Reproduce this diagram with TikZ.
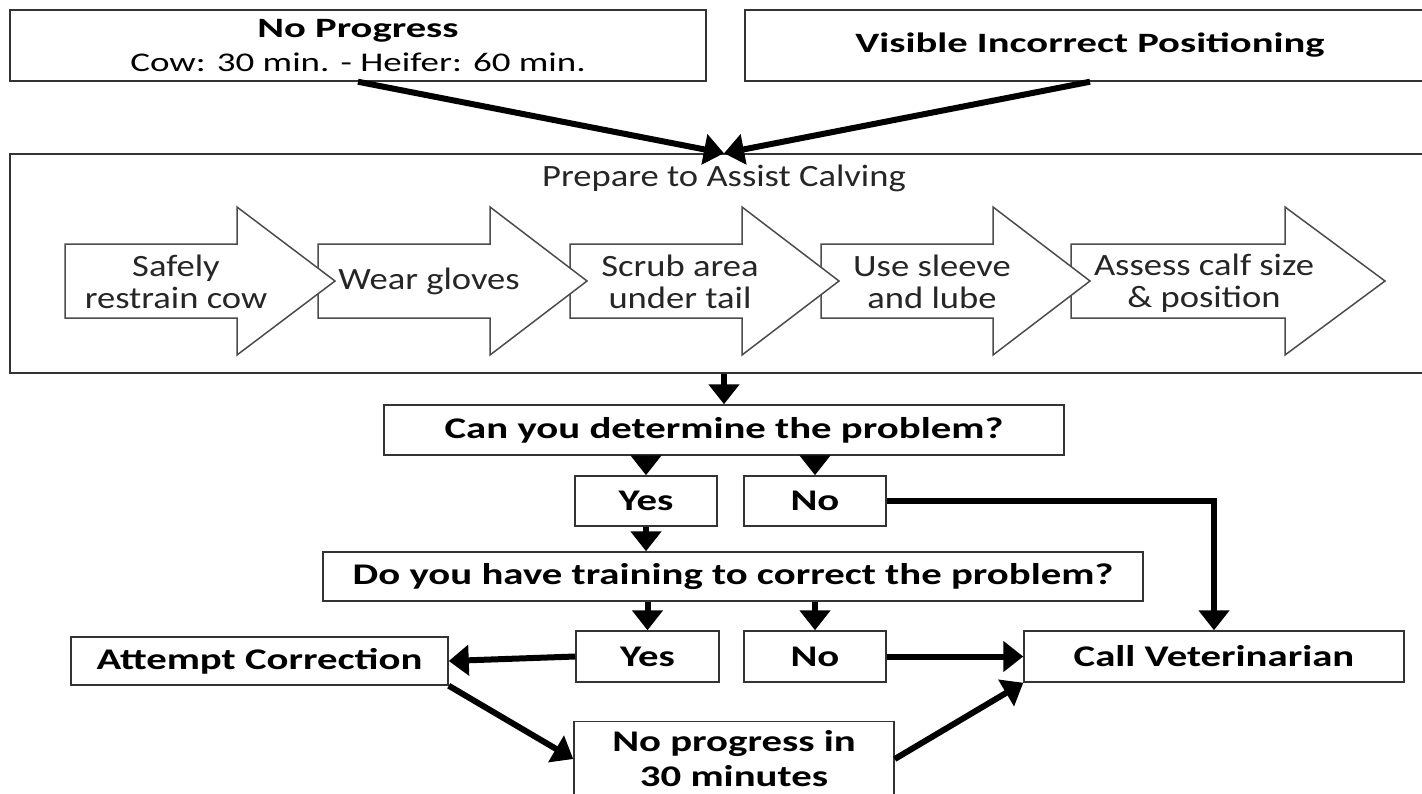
\documentclass[tikz,border=0pt]{standalone}
\usepackage{fontspec}
\setmainfont{Carlito}
\newfontfamily\headfont[FakeStretch=1.45]{Carlito}
\newfontfamily\subfont[FakeStretch=1.37]{Carlito}
\newfontfamily\stepfont[FakeStretch=1.18]{Carlito}
\newfontfamily\askfont[FakeStretch=1.36]{Carlito}
\usetikzlibrary{arrows.meta}

\tikzset{
  box/.style={draw=black!80, line width=1.5pt, fill=white, inner sep=0pt, align=center},
  asktext/.style={font=\askfont\bfseries\fontsize{30}{35}\selectfont},
  steptext/.style={align=center, text=black!85, inner sep=0pt, font=\stepfont\fontsize{31}{32}\selectfont},
  chev/.style={draw=black!70, line width=1.5pt, fill=white},
  flow/.style={line width=6pt, -{Triangle[length=20pt,width=30pt]}}
}

\begin{document}
\begin{tikzpicture}[x=1pt, y=-1pt]
    \useasboundingbox (0,0) rectangle (1422,793);
    \clip (0,0) rectangle (1422,793);

    % Top boxes
    \node[box, minimum width=696pt, minimum height=71pt] (np) at (358,45.5)
        {{\headfont\bfseries\fontsize{28}{33}\selectfont No Progress}\\[9pt]
         {\subfont\fontsize{27}{30}\selectfont Cow: 30 min. - Heifer: 60 min.}};
    \node[box, minimum width=690pt, minimum height=71pt, font=\headfont\bfseries\fontsize{28}{33}\selectfont] (vis) at (1090,45.5)
        {Visible Incorrect Positioning};

    % Preparation box with the steps
    \node[box, minimum width=1428pt, minimum height=219pt] (prep) at (724,263.5) {};
    \node[steptext] (preptitle) at (724,178) {Prepare to Assist Calving};

    % Step arrows, drawn from right to left
    \foreach \x/\b/\h in {1071/214/100, 821/172/97, 570/172/97, 318/172/97, 65/172/98}
        \draw[chev] (\x,244) -- ++(\b,0) -- ++(0,-37) -- ++(\h,74) -- ++(-\h,74)
            -- ++(0,-37) -- ++(-\b,0) -- cycle;

    \node[steptext] (c1) at (176,282) {Safely\\restrain cow};
    \node[steptext] (c2) at (429,281) {Wear gloves};
    \node[steptext] (c3) at (680,282) {Scrub area\\under tail};
    \node[steptext] (c4) at (932,282) {Use sleeve\\and lube};
    \node[steptext] (c5) at (1204,283) {Assess calf size\\\& position};

    % Questions and answers
    \node[box, asktext, minimum width=680pt, minimum height=50pt] (can) at (724,430) {Can you determine the problem?};
    \node[box, asktext, minimum width=142pt, minimum height=50pt] (yes1) at (646,501) {Yes};
    \node[box, asktext, minimum width=142pt, minimum height=50pt] (no1) at (815,501) {No};
    \node[box, asktext, minimum width=820pt, minimum height=49pt] (train) at (733,576.5) {Do you have training to correct the problem?};
    \node[box, asktext, minimum width=143pt, minimum height=51pt] (yes2) at (647.5,656.5) {Yes};
    \node[box, asktext, minimum width=142pt, minimum height=51pt] (no2) at (815,656.5) {No};
    \node[box, asktext, minimum width=380pt, minimum height=51pt] (vet) at (1214,656.5) {Call Veterinarian};
    \node[box, asktext, minimum width=377pt, minimum height=48pt] (attempt) at (259.5,661) {Attempt Correction};
    \node[box, asktext, minimum width=320pt, minimum height=75pt] (wait) at (734,759) {No progress in\\30 minutes};

    % Connectors
    \draw[flow] (np.south) -- (prep.north);
    \draw[flow] (vis.south) -- (prep.north);
    \draw[flow] (prep.south) -- (can.north);
    \draw[flow] (yes1.north |- can.south) -- (yes1.north);
    \draw[flow] (no1.north |- can.south) -- (no1.north);
    \draw[flow] (yes1.south) -- (yes1.south |- train.north);
    \draw[flow] (no1.east) -| (vet.north);
    \draw[flow] (yes2.north |- train.south) -- (yes2.north);
    \draw[flow] (no2.north |- train.south) -- (no2.north);
    \draw[flow] (yes2.west) -- (attempt.east);
    \draw[flow] (no2.east) -- (vet.west);
    \draw[flow] (attempt.south east) -- (wait.west);
    \draw[flow] (wait.east) -- (vet.south west);
\end{tikzpicture}
\end{document}
